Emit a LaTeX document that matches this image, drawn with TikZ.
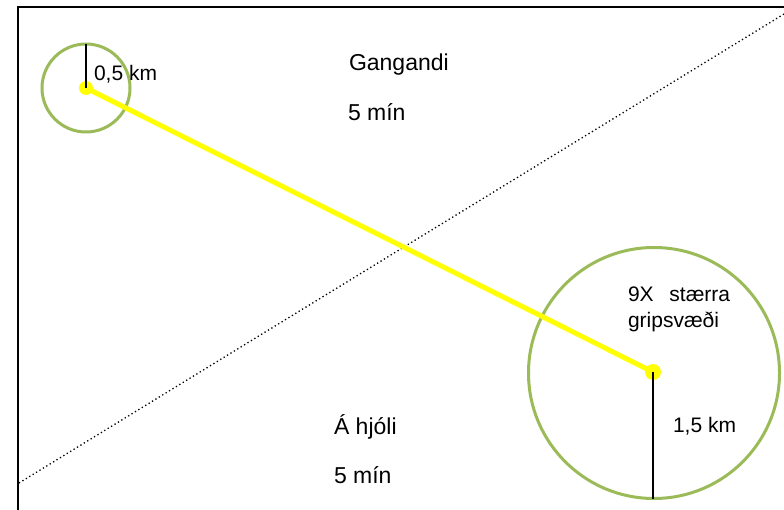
\documentclass[tikz,border=0pt]{standalone}
\usepackage{fontspec}
\setmainfont{Liberation Sans}
\definecolor{ringgreen}{HTML}{9BBB59}
\definecolor{dotyellow}{HTML}{FFFF00}
\begin{document}
\begin{tikzpicture}[x=1pt,y=-1pt,
  ring/.style={circle,draw=ringgreen,line width=3pt,inner sep=0pt,outer sep=0pt},
  ydot/.style={circle,fill=dotyellow,inner sep=0pt,outer sep=0pt},
  lbl/.style={anchor=base west,inner sep=0pt,outer sep=0pt,font=\fontsize{21}{25}\selectfont},
  biglbl/.style={anchor=base west,inner sep=0pt,outer sep=0pt,font=\fontsize{23}{27}\selectfont},
  radius line/.style={draw=black,line width=1.3pt},
  link/.style={draw=dotyellow,line width=5pt},
  divider/.style={draw=black,line width=1.3pt,dash pattern=on 1.3pt off 2.7pt}]
\useasboundingbox (0,0) rectangle (784,510);
\fill[white] (0,0) rectangle (784,510);
% frame
\coordinate (fbl) at (18,512);
\coordinate (ftl) at (18,7);
\coordinate (ftr) at (786,7);
\draw[line width=2.2pt] (fbl) -- (ftl) -- (ftr);
% dotted divider
\coordinate (d1) at (19,483);
\coordinate (d2) at (784,14);
\draw[divider] (d1) -- (d2);
% circles
\node[ring,minimum size=88pt] (c1) at (86,88) {};
\node[ring,minimum size=251pt] (c2) at (654,373) {};
% dots
\node[ydot,minimum size=14pt] (p1) at (86,88) {};
\node[ydot,minimum size=16pt] (p2) at (653,372) {};
\draw[link] (p1.center) -- (p2.center);
% radius lines
\draw[radius line] (p1.center) -- (c1.north);
\coordinate (c2b) at (653,498.5);
\draw[radius line] (p2.center) -- (c2b);
% labels
\node[lbl] (r1) at (94,81) {0,5 km};
\node[biglbl] (g1) at (349,71) {Gangandi};
\node[biglbl] (g2) at (348,121) {5 mín};
\node[lbl] (s1) at (628,302) {9X\hspace{0.75em}stærra};
\node[lbl] (s2) at (628,328) {gripsvæði};
\node[lbl] (r2) at (673,432) {1,5 km};
\node[biglbl] (h1) at (334,434) {Á hjóli};
\node[biglbl] (h2) at (334,483) {5 mín};
\end{tikzpicture}
\end{document}
